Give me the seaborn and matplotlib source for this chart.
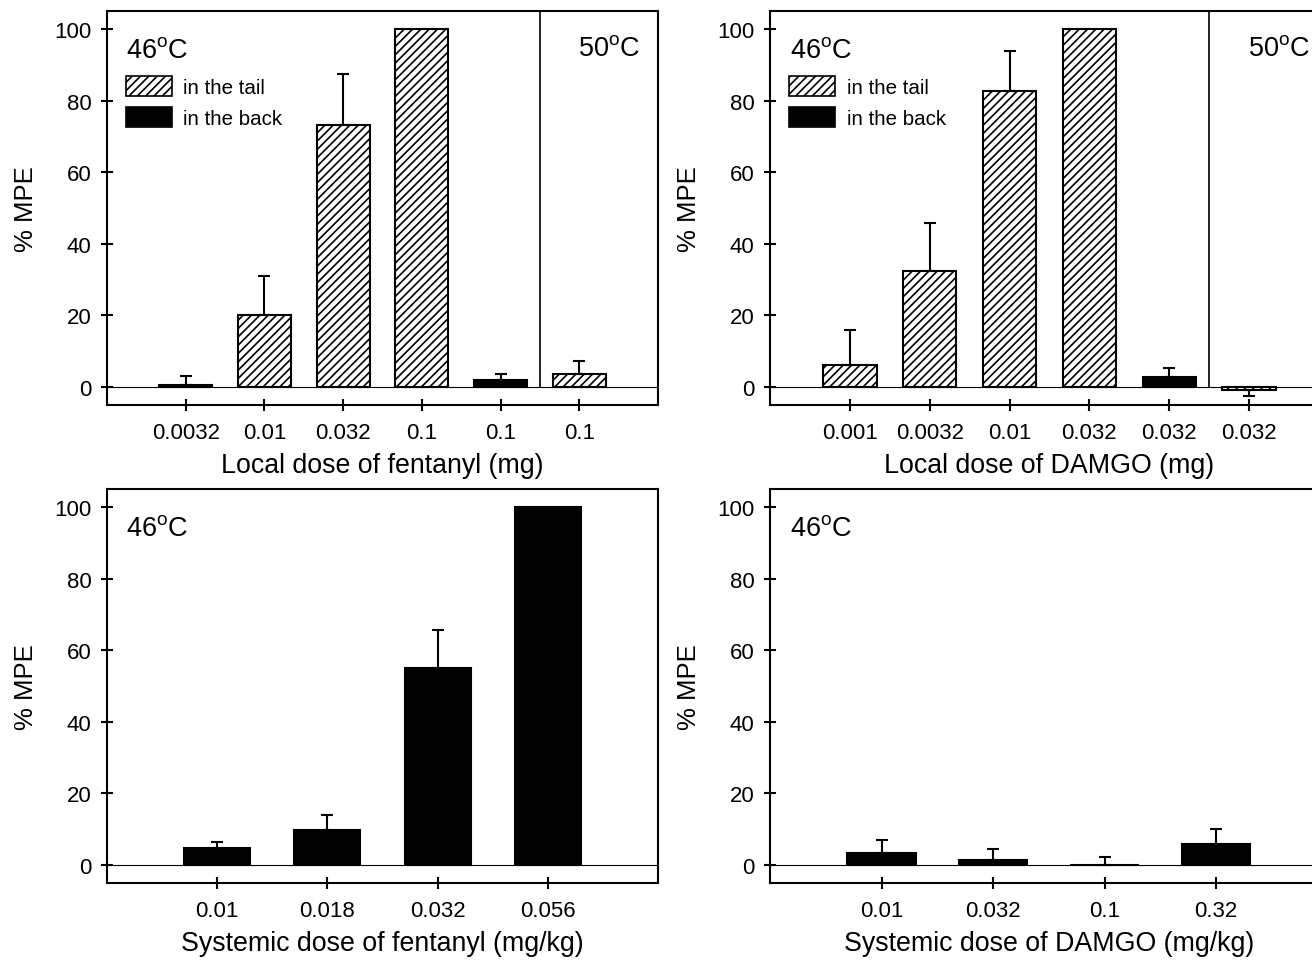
import matplotlib
matplotlib.use("Agg")
import matplotlib.pyplot as plt
import seaborn as sns
import pandas as pd
import numpy as np
from matplotlib.patches import Patch

# ---------------- data ----------------
fent_local_labels = ["0.0032", "0.01", "0.032", "0.1", "0.1", "0.1"]
fent_local_mean = [0.5, 20.0, 73.3, 100.0, 1.9, 3.7]
fent_local_sem = [2.6, 11.0, 14.0, 0.0, 1.8, 3.5]
fent_local_site = ["tail", "tail", "tail", "tail", "back", "tail"]

damgo_local_labels = ["0.001", "0.0032", "0.01", "0.032", "0.032", "0.032"]
damgo_local_mean = [6.3, 32.3, 82.7, 100.0, 2.9, -0.9]
damgo_local_sem = [9.5, 13.4, 11.0, 0.0, 2.4, 1.5]
damgo_local_site = ["tail", "tail", "tail", "tail", "back", "tail"]

fent_sys_labels = ["0.01", "0.018", "0.032", "0.056"]
fent_sys_mean = [4.85, 9.9, 55.0, 100.0]
fent_sys_sem = [1.7, 4.2, 10.5, 0.0]
fent_sys_site = ["back", "back", "back", "back"]

damgo_sys_labels = ["0.01", "0.032", "0.1", "0.32"]
damgo_sys_mean = [3.45, 1.4, 0.0, 5.8]
damgo_sys_sem = [3.65, 3.2, 2.2, 4.3]
damgo_sys_site = ["back", "back", "back", "back"]

legend_labels = ["in the tail", "in the back"]

# ---------------- style ----------------
sns.set_theme(style="white")
plt.rcParams["font.family"] = ["Liberation Sans", "DejaVu Sans"]
plt.rcParams["mathtext.fontset"] = "custom"
plt.rcParams["mathtext.rm"] = "Liberation Sans"
plt.rcParams["hatch.linewidth"] = 1.2
plt.rcParams["hatch.color"] = "black"
plt.rcParams["text.color"] = "black"
plt.rcParams["axes.labelcolor"] = "black"
plt.rcParams["xtick.color"] = "black"
plt.rcParams["ytick.color"] = "black"

W, H = 1312, 962
fig = plt.figure(figsize=(W / 100, H / 100), dpi=100)
fig.patch.set_facecolor("white")


def px_axes(x0, x1, ytop, ybot):
    return fig.add_axes([x0 / W, 1 - ybot / H, (x1 - x0) / W, (ybot - ytop) / H])


HATCH = "////"


def draw(ax, labels, mean, sem, site, width, xlabel, divider, legend, spines_right):
    n = len(labels)
    df = pd.DataFrame({"pos": np.arange(n), "mean": mean, "site": site})
    levels = [s for s in ["tail", "back"] if s in set(site)]
    sns.barplot(data=df, x="pos", y="mean", hue="site", hue_order=levels,
                palette={"tail": "white", "back": "black"}, dodge=False,
                width=width, edgecolor="black", linewidth=1.5, saturation=1,
                errorbar=None, legend=False, ax=ax, zorder=2)
    for p in ax.patches:
        fc = p.get_facecolor()
        if fc[0] + fc[1] + fc[2] > 2.5:
            p.set_hatch(HATCH)
    m = np.asarray(mean, float)
    s = np.asarray(sem, float)
    x = np.arange(n)
    up = np.where(m >= 0, s, 0.0)
    lo = np.where(m < 0, s, 0.0)
    mask = s > 0
    ax.errorbar(x[mask], m[mask], yerr=[lo[mask], up[mask]], fmt="none",
                ecolor="black", elinewidth=1.5, capsize=4.5, capthick=1.5, zorder=3)
    ax.axhline(0, color="black", lw=0.8, zorder=1)
    if divider:
        ax.vlines(4.5, 0, 105, color="black", lw=1.2, zorder=1)
        ax.text(5.38, 92.8, "50$^{\\mathrm{o}}$C", ha="center", va="baseline",
                fontsize=19.5, color="black")
    ax.text(0.035, 0.883, "46$^{\\mathrm{o}}$C", transform=ax.transAxes,
            ha="left", va="baseline", fontsize=19.5, color="black")
    ax.set_xlim(-1, n)
    ax.set_ylim(-5, 105)
    ax.set_yticks([0, 20, 40, 60, 80, 100])
    ax.set_xticks(x)
    ax.set_xticklabels(labels)
    ax.tick_params(axis="both", direction="inout", length=8, width=1.5,
                   labelsize=16, colors="black")
    ax.tick_params(axis="x", bottom=True, pad=8)
    ax.tick_params(axis="y", left=True, pad=7)
    ax.set_xlabel(xlabel, fontsize=19.3, labelpad=6.5, color="black")
    ax.set_ylabel("% MPE", fontsize=18.5, labelpad=12, color="black")
    ax.grid(False)
    for k, sp in ax.spines.items():
        sp.set_color("black")
        sp.set_linewidth(1.5)
    ax.spines["right"].set_visible(spines_right)
    if legend:
        handles = [Patch(facecolor="white", edgecolor="black", hatch=HATCH, linewidth=1.2),
                   Patch(facecolor="black", edgecolor="black", linewidth=1.2)]
        leg = ax.legend(handles, legend_labels, loc="upper left", bbox_to_anchor=(0.034, 0.835),
                        frameon=False, fontsize=14.8, handlelength=2.25, handleheight=1.1,
                        handletextpad=0.55, labelspacing=0.5, borderpad=0, borderaxespad=0)
        for t in leg.get_texts():
            t.set_color("black")


ax1 = px_axes(107, 658, 12, 406)
draw(ax1, fent_local_labels, fent_local_mean, fent_local_sem, fent_local_site, 0.67,
     "Local dose of fentanyl (mg)", True, True, True)

ax2 = px_axes(770, 1329, 12, 406)
draw(ax2, damgo_local_labels, damgo_local_mean, damgo_local_sem, damgo_local_site, 0.67,
     "Local dose of DAMGO (mg)", True, True, True)

ax3 = px_axes(107, 658, 490, 884)
draw(ax3, fent_sys_labels, fent_sys_mean, fent_sys_sem, fent_sys_site, 0.6,
     "Systemic dose of fentanyl (mg/kg)", False, False, True)

ax4 = px_axes(770, 1327.5, 490, 884)
draw(ax4, damgo_sys_labels, damgo_sys_mean, damgo_sys_sem, damgo_sys_site, 0.61,
     "Systemic dose of DAMGO (mg/kg)", False, False, True)

fig.savefig("out.png", dpi=100, facecolor="white")
